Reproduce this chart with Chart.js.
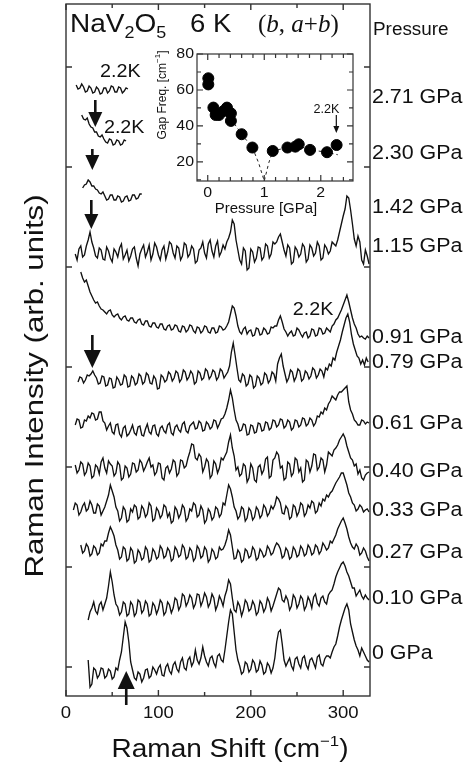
<!DOCTYPE html>
<html>
<head>
<meta charset="utf-8">
<script src="https://cdn.jsdelivr.net/npm/chart.js@4.4.0/dist/chart.umd.min.js"></script>
<style>
    html, body { margin: 0; padding: 0; background: #fff; }
    #wrap { position: relative; width: 472px; height: 767px; }
    #main { position: absolute; left: 0; top: 0; }
    #inset { position: absolute; left: 150px; top: 40px; }
</style>
</head>
<body>
<div id="wrap">
    <canvas id="main" width="472" height="767"></canvas>
    <canvas id="inset" width="215" height="180"></canvas>
</div>
<script>
'use strict';

// ---- main panel data: one trace per pressure, top to bottom ----
var pressures = ['2.71 GPa', '2.30 GPa', '1.42 GPa', '1.15 GPa', '0.91 GPa', '0.79 GPa',
    '0.61 GPa', '0.40 GPa', '0.33 GPa', '0.27 GPa', '0.10 GPa', '0 GPa'];
var shiftStart = [11, 17, 18, 10, 16, 13, 10, 10, 8, 16, 24, 24];   // cm-1, first point of each trace
var shiftStep = 2;                                                   // cm-1 between points
var traceOffset = [606, 554, 498, 442, 366, 316, 268, 226, 181, 143, 86, 24];

var int271 = [5, 1, 2, 6, 3, -2, -1, 4, 2, -3, -2, 3, 1, -4, -3, 2, 2, -3, -1, 4, 3, -2, -2, 3, 2, -3, -1, 2, 1];
var int230 = [27, 23, 22, 24, 18, 15, 14, 10, 10, 6, 5, 7, 3, 0, -1, 3, 2, -3, -2, 2, 1, -3, -2, 2, 1];
var int142 = [10, 13, 14, 18, 16, 12, 12, 9, 8, 5, 4, 6, 2, -2, -1, 3, 3, -2, -2, 2, 1, -4, -3, 1, 2, -3, -2, 3, 3, -1, 0, 4, 4];
var int115 = [
    0, -6, 5, 8, -3, -1, 8, 14, 22, 12,   6, -2, -4, 6, 4, -5, -6, 7, 3, -4,
    -8, 5, 2, -3, 6, 10, -5, -1, 4, -7,   -2, 5, 7, -4, -12, 0, 5, 9, -3, 2,
    9, -6, 0, 11, 7, -1, -6, 4, 8, -5,    2, 12, 10, 1, -4, 8, 6, -6, -2, 11,
    9, -3, 0, 8, 5, -9, -7, 4, 6, 12,     1, -4, 10, 14, 3, -3, 8, 13, -2, 2,
    9, 5, 12, 16, 22, 34, 30, 14, 4, -6,  -10, 6, 3, -16, -14, 5, 2, -8, -4, 7,
    6, -6, -3, 10, 8, -4, 0, 12, 10, 12,  17, 20, 12, 4, -2, 9, 6, -10, -8, 7,
    4, -3, 0, 10, 7, -8, -5, 9, 6, -2,    1, 12, 8, -6, -4, 9, 6, 0, 3, 12,
    10, 8, 14, 22, 30, 38, 45, 58, 56, 44, 30, 15, 8, 18, 12, -6, -10, 4, -2, -10];
var int091 = [
    58, 52, 48, 50, 44, 38, 34, 30, 27, 28,  24, 21, 20, 18, 16, 19, 20, 15, 13, 15,
    16, 12, 10, 13, 14, 10, 9, 12, 12, 8,    7, 10, 11, 6, 5, 9, 9, 4, 3, 7,
    7, 3, 2, 6, 6, 1, 0, 4, 5, 0,            1, 5, 4, -1, -2, 4, 3, -2, 0, 5,
    4, -1, -3, 3, 2, -3, -1, 4, 3, -2,       -3, 2, 2, -3, -2, 4, 3, 0, 1, 4,
    8, 16, 24, 22, 14, 4, -2, -4, 1, 3,      -4, -1, 0, -6, -5, 2, 1, -5, -4, 2,
    0, -4, -3, 3, 2, 4, 4, 10, 14, 8,        1, -2, -6, -3, -1, -6, -5, 2, 0, -4,
    -7, -3, -2, -8, -6, 1, 0, -6, -5, 2,     1, -4, -3, 2, 0, -2, 4, 6, 10, 12,
    16, 20, 25, 30, 35, 28, 20, 12, 6, 2,    -4, -7, -6, -8, -9, -6, -8];
var int079 = [
    -2, 3, 2, -3, 0, 5, 4, 6, 9, 5,         2, -4, -3, 4, 3, -6, -5, 2, 1, -8,
    -7, 3, 0, -5, -4, 5, 3, -7, -6, 4,      2, -5, -3, 6, 4, -4, -2, 7, 5, -3,
    -4, 4, 1, -9, -8, 5, 3, -2, 0, 8,       6, -1, 2, 9, 7, -2, 1, 10, 8, 0,
    3, 9, 6, -4, -2, 9, 7, 0, 2, 11,        9, 1, 4, 10, 8, 0, 3, 11, 9, 2,
    5, 8, 14, 28, 37, 25, 12, 0, -2, 6,     4, -6, -4, 5, 3, -8, -6, 4, 2, -5,
    -3, 7, 5, -3, 0, 8, 6, -1, 16, 22,      26, 14, 6, -2, 2, 10, 8, -1, 3, 11,
    9, -1, 1, 9, 7, 1, 4, 12, 10, 2,        5, 11, 9, 3, 12, 10, 16, 14, 22, 20,
    28, 34, 40, 48, 55, 62, 66, 58, 45, 36, 30, 24, 22, 16, 20, 15, 22, 18];
var int061 = [
    3, 9, 8, 0, 1, 8, 7, 12, 10, 15,        14, 8, 9, 16, 16, 7, 5, -2, 2, 5,
    -4, -6, 3, 4, -6, -9, 0, 2, -8, -6,     -2, 3, -5, -7, 1, 2, -7, -8, -1, 4,
    -4, -6, 2, 3, -6, -8, 0, 2, -3, -5,     3, 5, -5, -7, 1, 3, -2, -4, 4, 6,
    -3, -5, 2, 4, 6, -1, 0, 7, 5, -3,       -2, 6, 4, -1, 1, 8, 7, 0, 4, 9,
    10, 14, 20, 28, 38, 30, 18, 8, 4, -3,   -2, 4, 3, -7, -6, 3, 2, -5, -4, 5,
    4, -3, -2, 6, 5, -2, 0, 8, 7, 1,        3, 9, 8, 0, 2, 8, 6, -2, 0, 8,
    7, 1, 3, 10, 9, 2, 4, 10, 8, 2,         5, 12, 11, 16, 14, 20, 18, 24, 27, 32,
    30, 28, 33, 36, 36, 38, 40, 42, 26, 18, 14, 8, 6, 3, 3, 8, 7, 4, 6, 5];
var int040 = [
    5, -3, 0, 8, 6, -5, -2, 7, 4, -8,       -6, 5, 3, -4, 8, 12, 2, -3, 9, 6,
    4, -6, -3, 8, 5, -10, -8, 4, 2, -7,     -4, 7, 6, -2, 0, 10, 7, -1, 3, 8,
    12, 3, 5, -5, -2, 7, 6, -8, -10, 2,     4, -3, 1, 10, 8, -6, -3, 10, 9, 2,
    4, 12, 18, 26, 25, 12, 10, 16, 13, -2,  3, 11, 8, -8, -5, 9, 6, -3, 2, 12,
    10, 14, 18, 28, 35, 22, 14, 0, 3, -6,   -4, 6, 4, -12, -8, 6, 2, -10, -12, 3,
    5, -4, 0, 11, 13, -8, -6, 10, 12, 18,   15, 2, 4, -10, -8, 8, 6, -6, -3, 12,
    10, -2, 2, -12, -10, 10, 8, -2, 4, 16,  15, 0, 3, 12, 10, -2, 5, 18, 16, 14,
    20, 22, 25, 30, 33, 36, 32, 24, 18, 12, 10, 4, 6, -4, 0, -8, -10, -5, -3, -2];
var int033 = [
    5, 12, 10, 0, 3, 9, 12, 4, 6, 14,       10, 2, 2, 11, 9, 0, 4, 8, 14, 20,
    30, 24, 18, 8, 4, -6, -3, 8, 5, -7,     -5, 6, 3, 10, 8, -4, -2, 9, 6, -2,
    1, 12, 9, -6, -4, 7, 4, -3, 0, 10,      8, -2, 2, -8, -6, 8, 5, -3, 1, 10,
    7, -6, -3, 6, 4, 12, 10, -2, 0, 9,      5, -8, -5, 6, 3, -5, -2, 8, 6, -2,
    1, 12, 10, 20, 30, 26, 18, 8, 4, -4,    -1, 8, 6, -6, -3, 7, 4, -5, -2, 8,
    5, -3, 0, 10, 7, -1, 2, 9, 6, 10,       18, 16, 12, 2, 1, 9, 6, -4, -2, 10,
    8, -1, 3, 12, 10, -1, 2, 10, 7, 14,     12, 2, 4, 12, 9, 16, 14, 20, 18, 22,
    24, 28, 32, 35, 38, 42, 42, 36, 30, 22, 18, 12, 10, 4, 6, 10, 8, 3, 5, 6,
    3];
var int027 = [
    8, 0, 2, 9, 6, -3, -1, 7, 5, -2,        0, 9, 7, 12, 12, 20, 26, 22, 17, 8,
    3, -6, -4, 6, 4, -8, -6, 5, 2, -10,     -8, 3, 0, -7, -5, 6, 3, -9, -7, 4,
    1, -6, -4, 7, 4, -5, -3, 5, 2, -8,      -6, 6, 3, -4, -2, 8, 5, -6, -4, 5,
    2, -8, -5, 7, 4, -5, -3, 6, 3, -9,      -6, 4, 1, -6, -4, 6, 3, 4, 8, 14,
    23, 18, 6, -6, -5, 3, 0, -9, -7, 4,     2, -5, -3, 6, 3, -7, -5, 4, 1, -4,
    -2, 7, 4, -2, 0, 6, 10, 8, 4, -5,       -3, 5, 2, -6, -4, 6, 3, -4, -2, 7,
    4, -3, -1, 8, 5, -2, 0, 8, 6, -1,       2, 10, 7, 3, 5, 12, 10, 14, 18, 24,
    28, 32, 35, 30, 24, 16, 10, 6, 4, 9,    6, -2, 0, 5, 2, -4, -8];
var int010 = [
    -10, -2, 2, 8, -1, -4, 5, 8, 0, 6,      12, 24, 38, 28, 15, 6, 3, -5, -2, 8,
    6, -6, -4, 8, 5, -6, -3, 10, 8, -3,     0, 9, 6, -6, -4, 7, 4, -4, 1, 10,
    7, -5, -2, 8, 5, -3, 2, 12, 10, 0,      4, 16, 14, 4, 8, 15, 12, 2, 6, 16,
    15, 4, 9, 17, 13, 3, 7, 16, 12, 0,      5, 14, 10, 4, 14, 20, 30, 26, 12, 0,
    -2, 8, 4, -6, 0, 10, 7, -1, 1, 9,       5, -5, -2, 9, 6, -2, 2, 12, 8, -1,
    4, 10, 16, 22, 20, 10, 8, 14, 10, 0,    4, 15, 12, 2, 6, 14, 11, 0, 4, 13,
    9, 2, 13, 16, 7, 4, 12, 14, 8, 6,       15, 18, 20, 26, 33, 38, 42, 46, 48, 44,
    38, 34, 28, 22, 22, 14, 17, 20, 14, 11, 15, 12, 10];
var int000 = [
    12, -15, -12, 4, 2, -6, -3, 4, 3, -6,   -4, 3, 1, -7, -5, 4, 2, 12, 20, 35,
    50, 44, 30, 10, 2, -6, -8, 0, -2, -10,  -6, 2, 3, -6, -4, 5, 2, -2, 4, 7,
    -3, -4, 5, 8, 1, -2, 7, 10, 3, 0,       10, 14, 4, 2, 12, 15, 6, 10, 22, 12,
    8, 14, 25, 16, 10, 6, 14, 16, 9, 5,     16, 18, 12, 10, 22, 36, 50, 62, 58, 40,
    22, 12, 6, -2, 0, 10, 8, 0, 3, 12,      9, 0, 2, 11, 7, -2, 0, 9, 6, -1,
    4, 14, 30, 40, 42, 28, 12, 6, 10, 14,   6, 2, 13, 15, 8, 4, 14, 16, 7, 3,
    12, 14, 9, 4, 15, 17, 8, 6, 13, 16,     16, 14, 20, 25, 28, 36, 45, 52, 58, 64,
    68, 62, 48, 40, 32, 26, 22, 16, 24, 20, 16, 12, 10];
var traces = [int271, int230, int142, int115, int091, int079, int061, int040, int033, int027, int010, int000];

var xTicksMajor = [0, 100, 200, 300];
var xTicksMinor = [50, 150, 250];
var yTicks = [29, 129, 229, 329, 429, 529, 629];

// annotations in data units
var pressureLabelY = [599, 543, 489, 450, 359, 334, 273, 225, 186, 144, 98, 43];
var gapArrows = [   // x (cm-1), tail y, tip y
    [31.7, 596, 569], [28.5, 547, 526], [27.4, 496, 467], [28.5, 361, 328], [65.2, -9, 25]
];
var lowTempLabels = [[58.9, 624], [63, 568], [267.5, 386]];   // "2.2K"

// ---- inset data ----
var gapPressure = [0.01, 0.01, 0.10, 0.14, 0.20, 0.28, 0.34, 0.41, 0.41, 0.60, 0.79, 1.15, 1.41, 1.55, 1.61, 1.81, 2.11, 2.28];
var gapFreq = [66.5, 63.1, 50.2, 46.1, 46.1, 48.3, 50.2, 47.0, 42.8, 35.4, 28.0, 26.1, 28.0, 28.5, 29.8, 26.7, 25.4, 29.4];
var guidePressure = [0.41, 0.60, 0.79, 0.90, 1.00, 1.08, 1.15, 1.41, 1.60, 1.81, 2.11, 2.30];
var guideFreq = [44.0, 35.4, 28.0, 19.5, 9.4, 19.5, 26.1, 28.0, 29.0, 26.7, 25.4, 24.0];
var insetXTicksMajor = [0, 1, 2];
var insetXTicksMinor = [0.2, 0.4, 0.6, 0.8, 1.2, 1.4, 1.6, 1.8, 2.2, 2.4];
var insetYTicksMajor = [20, 40, 60, 80];
var insetYTicksMinor = [10, 30, 50, 70];

var SANS = '"Liberation Sans", Arial, Helvetica, sans-serif';
var SERIF = '"Liberation Serif", "Times New Roman", serif';
var INK = '#111';
var STRETCH = 1.09;   // the original lettering is a bit wider than Arial

function wideText(ctx, text, x, y, sx) {
    ctx.save();
    ctx.translate(x, y);
    ctx.scale(sx || STRETCH, 1);
    ctx.fillText(text, 0, 0);
    ctx.restore();
}

function drawArrow(ctx, x, yTail, yTip, shaft, headW, headL) {
    var dir = yTip > yTail ? 1 : -1;
    ctx.lineWidth = shaft;
    ctx.beginPath();
    ctx.moveTo(x, yTail);
    ctx.lineTo(x, yTip - dir * headL);
    ctx.stroke();
    ctx.beginPath();
    ctx.moveTo(x, yTip);
    ctx.lineTo(x - headW / 2, yTip - dir * headL);
    ctx.lineTo(x + headW / 2, yTip - dir * headL);
    ctx.closePath();
    ctx.fill();
}

// frame + inward ticks on all four sides
function drawFrame(ctx, area, xs, ys, xMaj, xMin, yMaj, yMin, lenMaj, lenMin) {
    ctx.strokeRect(area.left, area.top, area.right - area.left, area.bottom - area.top);
    ctx.beginPath();
    function xt(v, len) {
        var px = xs.getPixelForValue(v);
        ctx.moveTo(px, area.bottom); ctx.lineTo(px, area.bottom - len);
        ctx.moveTo(px, area.top); ctx.lineTo(px, area.top + len);
    }
    function yt(v, len) {
        var py = ys.getPixelForValue(v);
        ctx.moveTo(area.left, py); ctx.lineTo(area.left + len, py);
        ctx.moveTo(area.right, py); ctx.lineTo(area.right - len, py);
    }
    xMaj.forEach(function (v) { xt(v, lenMaj); });
    xMin.forEach(function (v) { xt(v, lenMin); });
    yMaj.forEach(function (v) { yt(v, lenMaj); });
    yMin.forEach(function (v) { yt(v, lenMin); });
    ctx.stroke();
}

var mainDecor = {
    id: 'mainDecor',
    afterDraw: function (chart) {
        var ctx = chart.ctx, area = chart.chartArea;
        var xs = chart.scales.x, ys = chart.scales.y;
        ctx.save();
        ctx.strokeStyle = '#333';
        ctx.fillStyle = INK;
        ctx.lineWidth = 1.4;
        drawFrame(ctx, area, xs, ys, xTicksMajor, xTicksMinor, yTicks, [], 6, 4);

        // x tick labels
        ctx.font = '17px ' + SANS;
        ctx.textAlign = 'center';
        ctx.textBaseline = 'middle';
        xTicksMajor.forEach(function (v) {
            wideText(ctx, String(v), xs.getPixelForValue(v), area.bottom + 17);
        });

        // x title with superscript
        ctx.textAlign = 'left';
        ctx.textBaseline = 'alphabetic';
        var t1 = 'Raman Shift (cm', t2 = '\u22121', t3 = ')';
        var sx = 1.12;
        ctx.font = '25px ' + SANS;
        var w1 = ctx.measureText(t1).width * sx, w3 = ctx.measureText(t3).width * sx;
        ctx.font = '15px ' + SANS;
        var w2 = ctx.measureText(t2).width * sx;
        var tx = 230 - (w1 + w2 + w3) / 2, ty = 757;
        ctx.font = '25px ' + SANS;
        wideText(ctx, t1, tx, ty, sx);
        wideText(ctx, t3, tx + w1 + w2, ty, sx);
        ctx.font = '15px ' + SANS;
        wideText(ctx, t2, tx + w1, ty - 11, sx);

        // y title
        ctx.save();
        ctx.translate(36, 386);
        ctx.rotate(-Math.PI / 2);
        ctx.scale(1.2, 1);
        ctx.font = '26px ' + SANS;
        ctx.textAlign = 'center';
        ctx.textBaseline = 'middle';
        ctx.fillText('Raman Intensity (arb. units)', 0, 0);
        ctx.restore();

        // header: NaV2O5  6 K  (b, a+b)
        var hx = area.left + 4, hy = area.top + 28;
        var parts = [
            ['NaV', '25px ' + SANS, 0], ['2', '16px ' + SANS, 6], ['O', '25px ' + SANS, 0], ['5', '16px ' + SANS, 6]
        ];
        parts.forEach(function (p) {
            ctx.font = p[1];
            wideText(ctx, p[0], hx, hy + p[2], 1.12);
            hx += ctx.measureText(p[0]).width * 1.12;
        });
        ctx.font = '25px ' + SANS;
        wideText(ctx, '6 K', area.left + 124, hy, 1.1);
        hx = area.left + 192;
        var tparts = [['(', ''], ['b', 'italic '], [', ', ''], ['a', 'italic '], ['+', ''], ['b', 'italic '], [')', '']];
        tparts.forEach(function (p) {
            ctx.font = p[1] + '25px ' + SERIF;
            ctx.fillText(p[0], hx, hy);
            hx += ctx.measureText(p[0]).width;
        });

        // pressure labels on the right
        ctx.textBaseline = 'middle';
        ctx.font = '18px ' + SANS;
        wideText(ctx, 'Pressure', area.right + 3, 30, 1.05);
        ctx.font = '20px ' + SANS;
        pressures.forEach(function (p, i) {
            wideText(ctx, p, area.right + 2, ys.getPixelForValue(pressureLabelY[i]), 1.07);
        });

        // 2.2K notes
        ctx.font = '19px ' + SANS;
        ctx.textAlign = 'center';
        lowTempLabels.forEach(function (l) {
            wideText(ctx, '2.2K', xs.getPixelForValue(l[0]), ys.getPixelForValue(l[1]), 1.04);
        });

        // gap arrows
        ctx.strokeStyle = INK;
        gapArrows.forEach(function (a, i) {
            var big = i >= 3;
            drawArrow(ctx, xs.getPixelForValue(a[0]), ys.getPixelForValue(a[1]), ys.getPixelForValue(a[2]),
                2.6, big ? 17 : 14, big ? 18 : 15);
        });
        ctx.restore();
    }
};

var datasets = traces.map(function (vals, k) {
    return {
        label: pressures[k],
        data: vals.map(function (v, i) {
            return { x: shiftStart[k] + i * shiftStep, y: traceOffset[k] + v };
        }),
        borderColor: '#111',
        borderWidth: 1.35,
        pointRadius: 0,
        tension: 0,
        fill: false
    };
});

new Chart(document.getElementById('main').getContext('2d'), {
    type: 'line',
    data: { datasets: datasets },
    options: {
        responsive: false,
        animation: false,
        layout: { padding: { left: 66, right: 102, top: 4, bottom: 71 } },
        plugins: { legend: { display: false }, tooltip: { enabled: false } },
        scales: {
            x: { type: 'linear', min: 0, max: 329, display: false },
            y: { type: 'linear', min: 0, max: 692, display: false }
        }
    },
    plugins: [mainDecor]
});

// ---- inset: gap frequency vs pressure ----
var insetDecor = {
    id: 'insetDecor',
    afterDraw: function (chart) {
        var ctx = chart.ctx, area = chart.chartArea;
        var xs = chart.scales.x, ys = chart.scales.y;
        ctx.save();
        ctx.strokeStyle = '#333';
        ctx.fillStyle = INK;
        ctx.lineWidth = 1.2;
        drawFrame(ctx, area, xs, ys, insetXTicksMajor, insetXTicksMinor, insetYTicksMajor, insetYTicksMinor, 6, 4);

        ctx.font = '15px ' + SANS;
        ctx.textAlign = 'center';
        ctx.textBaseline = 'middle';
        insetXTicksMajor.forEach(function (v) {
            wideText(ctx, String(v), xs.getPixelForValue(v), area.bottom + 12, 1.06);
        });
        ctx.textAlign = 'right';
        insetYTicksMajor.forEach(function (v) {
            wideText(ctx, String(v), area.left - 3, ys.getPixelForValue(v), 1.06);
        });

        ctx.textAlign = 'center';
        ctx.font = '14px ' + SANS;
        wideText(ctx, 'Pressure [GPa]', (area.left + area.right) / 2 - 9, area.bottom + 28, 1.07);

        ctx.save();
        ctx.translate(13, 55);
        ctx.rotate(-Math.PI / 2);
        ctx.font = '12px ' + SANS;
        ctx.textAlign = 'left';
        var a = 'Gap Freq. [cm', b = '\u22121', c = ']';
        var wa = ctx.measureText(a).width, wc = ctx.measureText(c).width;
        ctx.font = '8px ' + SANS;
        var wb = ctx.measureText(b).width;
        var sx0 = -(wa + wb + wc) / 2;
        ctx.font = '12px ' + SANS;
        ctx.fillText(a, sx0, 0);
        ctx.fillText(c, sx0 + wa + wb, 0);
        ctx.font = '8px ' + SANS;
        ctx.fillText(b, sx0 + wa, -5);
        ctx.restore();

        // 2.2K note with small arrow
        ctx.font = '12px ' + SANS;
        ctx.textAlign = 'center';
        wideText(ctx, '2.2K', xs.getPixelForValue(2.1), ys.getPixelForValue(48.9), 1.05);
        ctx.strokeStyle = INK;
        drawArrow(ctx, xs.getPixelForValue(2.275), ys.getPixelForValue(46.1), ys.getPixelForValue(36.1), 1.2, 6, 7);
        ctx.restore();
    }
};

new Chart(document.getElementById('inset').getContext('2d'), {
    type: 'scatter',
    data: {
        datasets: [{
            label: 'gap',
            data: gapPressure.map(function (p, i) { return { x: p, y: gapFreq[i] }; }),
            backgroundColor: '#000',
            borderColor: '#000',
            pointRadius: 5.5,
            order: 0
        }, {
            label: 'guide',
            data: guidePressure.map(function (p, i) { return { x: p, y: guideFreq[i] }; }),
            showLine: true,
            borderColor: '#222',
            borderWidth: 1,
            borderDash: [3, 3],
            pointRadius: 0,
            order: 1
        }]
    },
    options: {
        responsive: false,
        animation: false,
        layout: { padding: { left: 47, right: 12, top: 14, bottom: 39 } },
        plugins: { legend: { display: false }, tooltip: { enabled: false } },
        scales: {
            x: { type: 'linear', min: -0.19, max: 2.57, display: false },
            y: { type: 'linear', min: 9.4, max: 80, display: false }
        }
    },
    plugins: [insetDecor]
});
</script>
</body>
</html>
